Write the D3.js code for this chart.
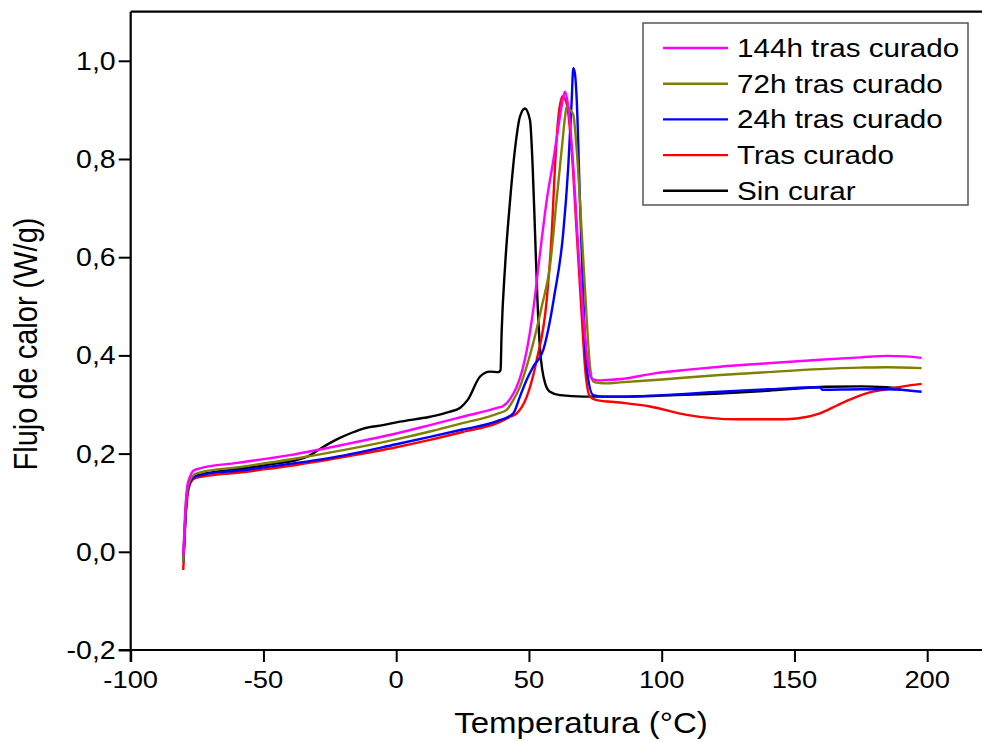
<!DOCTYPE html>
<html>
<head>
<meta charset="utf-8">
<script src="https://cdn.jsdelivr.net/npm/d3@7"></script>
<style>
  html, body { margin: 0; padding: 0; background: #fff; }
  svg { display: block; }
  text { font-family: "Liberation Sans", Arial, sans-serif; fill: #000; }
</style>
</head>
<body>
<svg id="chart" width="982" height="742"></svg>
<script>
// DSC curves: heat flow (W/g) versus temperature (°C)
const seriesNames = ["144h tras curado", "72h tras curado", "24h tras curado", "Tras curado", "Sin curar"];
const seriesColors = ["#ff00ff", "#808000", "#0000ff", "#ff0000", "#000000"];

const temp144 = [-80.2, -79.5, -78.7, -77.7, -76.4, -73.9, -60, -40, -20, 0, 12.7, 25, 38, 40.3, 43, 45.4, 47.5, 49.2, 51.6, 54, 56.7, 59.2, 61.1, 63, 63.6, 64.8, 66.7, 68.6, 70.5, 72.4, 73.6, 76, 79.3, 85, 96.8, 110, 122, 140, 159.6, 175, 184.7, 192, 197.9];
const flow144 = [-0.007, 0.078, 0.133, 0.153, 0.165, 0.170, 0.181, 0.197, 0.218, 0.241, 0.258, 0.275, 0.293, 0.297, 0.312, 0.336, 0.37, 0.411, 0.492, 0.60, 0.716, 0.798, 0.866, 0.927, 0.937, 0.907, 0.784, 0.615, 0.479, 0.377, 0.353, 0.349, 0.35, 0.352, 0.363, 0.371, 0.377, 0.384, 0.391, 0.396, 0.399, 0.398, 0.395];

const temp72 = [-80.2, -79.5, -78.7, -77.7, -76.2, -73.5, -60, -40, -20, 0, 12.7, 25, 38, 41.6, 44, 46.6, 49, 51.6, 54.8, 57.9, 60.4, 62.3, 63.6, 64.2, 65.5, 66.7, 68, 69.9, 71.7, 73, 74.2, 76, 79.3, 84.3, 100, 122, 140, 159.6, 175, 184.7, 197.9];
const flow72 = [-0.02, 0.07, 0.125, 0.145, 0.157, 0.162, 0.172, 0.188, 0.207, 0.229, 0.245, 0.262, 0.281, 0.289, 0.308, 0.336, 0.375, 0.425, 0.499, 0.581, 0.716, 0.818, 0.886, 0.907, 0.90, 0.89, 0.818, 0.649, 0.479, 0.377, 0.347, 0.344, 0.343, 0.345, 0.351, 0.36, 0.366, 0.372, 0.375, 0.376, 0.374];

const temp24 = [-80.2, -79.5, -78.7, -77.6, -76, -73, -60, -40, -20, 0, 12.7, 25, 38, 44.1, 46.6, 49.1, 51.6, 55.4, 57.9, 59.5, 62.9, 64.8, 66.1, 66.7, 67.3, 68, 69.2, 70.5, 71.7, 74.2, 78, 84.3, 100, 122, 140, 159.6, 160.5, 175, 185, 197.9];
const flow24 = [-0.02, 0.06, 0.12, 0.142, 0.152, 0.157, 0.165, 0.179, 0.196, 0.219, 0.234, 0.249, 0.266, 0.282, 0.316, 0.35, 0.377, 0.411, 0.47, 0.52, 0.649, 0.784, 0.920, 0.985, 0.975, 0.920, 0.716, 0.513, 0.377, 0.319, 0.316, 0.316, 0.319, 0.326, 0.331, 0.335, 0.330, 0.331, 0.331, 0.326];

const tempCured = [-80.2, -79.5, -78.7, -77.5, -75.8, -72, -60, -40, -20, 0, 12.7, 25, 38, 42.9, 45.4, 49.2, 52.9, 56.7, 58.6, 59.8, 61.1, 62.7, 64.2, 66.1, 68, 69.9, 71.1, 73, 75.5, 84.3, 95.6, 109.4, 128.2, 147, 155, 159.6, 166, 172.2, 178, 184.7, 191, 197.9];
const flowCured = [-0.037, 0.05, 0.11, 0.14, 0.150, 0.154, 0.161, 0.175, 0.193, 0.213, 0.228, 0.244, 0.262, 0.275, 0.282, 0.316, 0.39, 0.513, 0.649, 0.784, 0.886, 0.928, 0.913, 0.818, 0.649, 0.479, 0.377, 0.316, 0.309, 0.304, 0.296, 0.279, 0.270, 0.270, 0.275, 0.282, 0.298, 0.313, 0.324, 0.331, 0.337, 0.342];

const tempUncured = [-80.2, -79.5, -78.7, -77.6, -76, -73, -60, -45, -37.5, -33, -28, -22, -16, -12.4, -5, 1.4, 12.7, 20, 24, 27, 31.6, 35.3, 38.5, 39.3, 39.7, 41, 42.9, 44.7, 46.6, 48.5, 50.4, 51.4, 52.3, 53.2, 54.2, 56.1, 57.9, 61.7, 70.5, 85, 100, 120, 140, 162.1, 175, 184.7, 190];
const flowUncured = [-0.02, 0.06, 0.12, 0.142, 0.153, 0.158, 0.168, 0.18, 0.187, 0.195, 0.212, 0.23, 0.244, 0.251, 0.258, 0.265, 0.275, 0.285, 0.293, 0.31, 0.357, 0.367, 0.366, 0.37, 0.445, 0.581, 0.716, 0.818, 0.886, 0.903, 0.879, 0.784, 0.649, 0.513, 0.411, 0.343, 0.326, 0.319, 0.316, 0.316, 0.318, 0.322, 0.328, 0.336, 0.337, 0.335, 0.333];

const xTicks = [-100, -50, 0, 50, 100, 150, 200];
const xMinor = [-75, -25, 25, 75, 125, 175];
const yTicks = [-0.2, 0.0, 0.2, 0.4, 0.6, 0.8, 1.0];
const yMinor = [-0.1, 0.1, 0.3, 0.5, 0.7, 0.9];

const xLabel = "Temperatura (°C)";
const yLabel = "Flujo de calor (W/g)";

const seriesTemps = [temp144, temp72, temp24, tempCured, tempUncured];
const seriesFlows = [flow144, flow72, flow24, flowCured, flowUncured];

const series = seriesNames.map((name, i) => ({
  name,
  color: seriesColors[i],
  points: seriesTemps[i].map((t, j) => ({ t, v: seriesFlows[i][j] }))
}));

const svg = d3.select("#chart");
const plotLeft = 130.7, plotTop = 11.7, plotBottom = 650;
const pxPerDeg = 2.655;
const xMax = 222;

const x = d3.scaleLinear().domain([-100, xMax]).range([plotLeft, plotLeft + (xMax + 100) * pxPerDeg]);
const y = d3.scaleLinear().domain([-0.2, 1.1]).range([plotBottom, plotTop]);

const stretch = 1.14; // glyphs are drawn slightly wide

const fmtY = d => (d < 0 ? "-" : "") + Math.abs(d).toFixed(1).replace(".", ",");

// curves (black first, magenta last on top)
const line = d3.line().x(d => x(d.t)).y(d => y(d.v)).curve(d3.curveMonotoneX);
const plot = svg.append("g");
plot.selectAll("path.curve")
  .data(series.slice().reverse())
  .join("path")
  .attr("class", "curve")
  .attr("fill", "none")
  .attr("stroke", d => d.color)
  .attr("stroke-width", 2.4)
  .attr("stroke-linejoin", "round")
  .attr("d", d => line(d.points));

// x axis
const xAxisG = svg.append("g").attr("transform", `translate(0,${plotBottom})`);
xAxisG.call(d3.axisBottom(x).tickValues(xMinor).tickSize(7).tickFormat(""));
xAxisG.call(d3.axisBottom(x).tickValues(xTicks).tickSize(12).tickFormat(""));
xAxisG.selectAll(".domain").remove();
xAxisG.selectAll("line").attr("stroke", "#000").attr("stroke-width", 2);

svg.append("g").selectAll("text")
  .data(xTicks)
  .join("text")
  .attr("transform", d => `translate(${x(d)},${plotBottom + 38}) scale(${stretch},1)`)
  .attr("text-anchor", "middle")
  .attr("font-size", 24)
  .text(d => String(d));

// y axis
const yAxisG = svg.append("g").attr("transform", `translate(${plotLeft},0)`);
yAxisG.call(d3.axisLeft(y).tickValues(yMinor).tickSize(7).tickFormat(""));
yAxisG.call(d3.axisLeft(y).tickValues(yTicks).tickSize(12).tickFormat(""));
yAxisG.selectAll(".domain").remove();
yAxisG.selectAll("line").attr("stroke", "#000").attr("stroke-width", 2);

svg.append("g").selectAll("text")
  .data(yTicks)
  .join("text")
  .attr("transform", d => `translate(${plotLeft - 15},${y(d) + 9}) scale(${stretch},1)`)
  .attr("text-anchor", "end")
  .attr("font-size", 25)
  .text(fmtY);

// frame lines
svg.append("line").attr("x1", plotLeft - 12).attr("x2", 982).attr("y1", plotBottom).attr("y2", plotBottom)
  .attr("stroke", "#000").attr("stroke-width", 2.2);
svg.append("line").attr("x1", plotLeft).attr("x2", plotLeft).attr("y1", plotTop).attr("y2", plotBottom + 12)
  .attr("stroke", "#000").attr("stroke-width", 2.2);
svg.append("line").attr("x1", plotLeft).attr("x2", 982).attr("y1", plotTop).attr("y2", plotTop)
  .attr("stroke", "#000").attr("stroke-width", 2.2);

// axis titles
svg.append("text")
  .attr("transform", `translate(581,733) scale(${stretch},1)`)
  .attr("text-anchor", "middle")
  .attr("font-size", 29)
  .text(xLabel);

svg.append("text")
  .attr("transform", `translate(37,344) rotate(-90) scale(1,${stretch})`)
  .attr("text-anchor", "middle")
  .attr("font-size", 29)
  .text(yLabel);

// legend
const legend = svg.append("g");
legend.append("rect")
  .attr("x", 643).attr("y", 23).attr("width", 325).attr("height", 182)
  .attr("fill", "#fff").attr("stroke", "#555").attr("stroke-width", 1.5);
const rows = legend.selectAll("g.row")
  .data(series)
  .join("g")
  .attr("class", "row")
  .attr("transform", (d, i) => `translate(0,${57 + i * 35.7})`);
rows.append("line")
  .attr("x1", 663).attr("x2", 728).attr("y1", -9).attr("y2", -9)
  .attr("stroke", d => d.color).attr("stroke-width", 2.4);
rows.append("text")
  .attr("transform", `translate(737,0) scale(${stretch},1)`)
  .attr("font-size", 26)
  .text(d => d.name);
</script>
</body>
</html>
